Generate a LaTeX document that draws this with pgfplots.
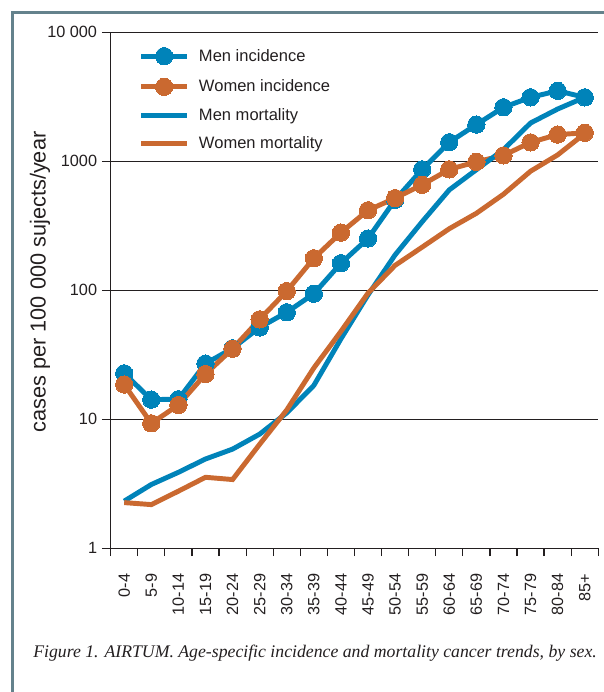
\documentclass[border=0pt]{standalone}
\usepackage{fontspec}
\setmainfont{Liberation Sans}
\newfontfamily\capfont{Liberation Serif}
\usepackage{pgfplots}
\pgfplotsset{compat=1.18}
\definecolor{mblue}{RGB}{0,131,185}
\definecolor{worange}{RGB}{202,105,48}
\definecolor{framec}{RGB}{100,130,140}
\definecolor{txt}{RGB}{35,31,32}
\begin{document}
\begin{tikzpicture}
\useasboundingbox (0pt,0pt) rectangle (452.25pt,519pt);
\draw[framec, line width=2.2pt] (9.4pt,-5pt) -- (9.4pt,509.6pt) -- (460pt,509.6pt);
\begin{axis}[
  at={(83pt,107.8pt)}, anchor=south west,
  scale only axis, width=365.7pt, height=387pt,
  ymode=log, log basis y=10, ymin=1, ymax=10000,
  xmin=-0.5, xmax=17.5,
  axis x line*=bottom, axis y line*=left,
  axis line style={-, line width=0.9pt, draw=txt},
  xtick={0,...,17},
  xticklabels={0-4,5-9,10-14,15-19,20-24,25-29,30-34,35-39,40-44,45-49,50-54,55-59,60-64,65-69,70-74,75-79,80-84,85+},
  major x tick style={draw=none},
  minor xtick={-0.5,0.5,...,17.5},
  minor x tick style={line width=0.9pt, draw=txt},
  minor tick length=6pt,
  xtick align=outside, ytick align=outside,
  ytick={1,10,100,1000,10000},
  yticklabels={1,10,100,1000,10\ 000},
  major y tick style={line width=0.9pt, draw=txt},
  major tick length=6.5pt,
  yminorticks=false,
  ymajorgrids, grid style={line width=0.9pt, draw=txt},
  tick label style={font=\fontsize{12.2}{14}\selectfont, text=txt},
  xticklabel style={yshift=-12.5pt, rotate=90, anchor=east, inner sep=0pt},
  yticklabel style={anchor=east, inner sep=0pt, xshift=-3.5pt},
  legend style={at={(axis description cs:0.057,0.971)}, anchor=north west, draw=none, fill=none,
    font=\fontsize{12.4}{14}\selectfont, text=txt, row sep=10pt, inner sep=0pt,
    nodes={inner sep=0pt}, /tikz/every odd column/.append style={column sep=7pt}},
  legend cell align=left,
  legend image code/.code={\draw[mark repeat=2,mark phase=2] plot coordinates {(0pt,0pt) (17.25pt,0pt) (34.5pt,0pt)};},
  clip=false,
]
\addplot[mblue, line width=3.7pt, mark=*, mark size=6.5pt, mark options={fill=mblue, draw=mblue, line width=0pt}] coordinates {
(0,22.7)(1,14.2)(2,14.3)(3,27)(4,35.5)(5,51.5)(6,67.5)(7,94)(8,162)(9,252)(10,502)(11,865)(12,1405)(13,1925)(14,2620)(15,3130)(16,3515)(17,3130)};
\addlegendentry{Men incidence}
\addplot[worange, line width=3.7pt, mark=*, mark size=6.5pt, mark options={fill=worange, draw=worange, line width=0pt}] coordinates {
(0,18.6)(1,9.3)(2,12.9)(3,22.4)(4,35.2)(5,59.5)(6,98.5)(7,177)(8,280)(9,417)(10,518)(11,657)(12,865)(13,990)(14,1110)(15,1400)(16,1610)(17,1660)};
\addlegendentry{Women incidence}
\addplot[mblue, line width=3.7pt] coordinates {
(0,2.32)(1,3.12)(2,3.88)(3,4.92)(4,5.87)(5,7.67)(6,11.2)(7,18.3)(8,42)(9,92)(10,188)(11,340)(12,600)(13,860)(14,1230)(15,1980)(16,2540)(17,3130)};
\addlegendentry{Men mortality}
\addplot[worange, line width=3.7pt] coordinates {
(0,2.26)(1,2.18)(2,2.77)(3,3.55)(4,3.41)(5,6.4)(6,11.8)(7,25)(8,48)(9,95)(10,156)(11,216)(12,300)(13,395)(14,555)(15,837)(16,1120)(17,1640)};
\addlegendentry{Women mortality}
\end{axis}
\node[rotate=90, text=txt, font=\fontsize{16.3}{18}\selectfont] at (30pt,307.5pt) {cases per 100 000 sujects/year};
\node[anchor=base west, inner sep=0pt, text=txt, font=\capfont\itshape\fontsize{13.3}{15}\selectfont] at (24.75pt,25.5pt) {Figure 1. AIRTUM. Age-specific incidence and mortality cancer trends, by sex.};
\end{tikzpicture}
\end{document}
